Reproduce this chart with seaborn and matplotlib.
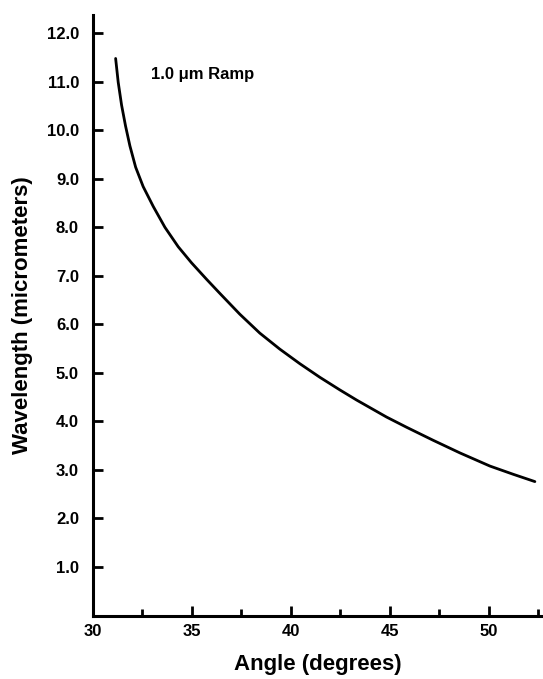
import matplotlib
matplotlib.use("Agg")
import matplotlib.pyplot as plt
import seaborn as sns
import pandas as pd
from matplotlib.ticker import MultipleLocator

# Diffraction angle vs. wavelength for the ramp grating
angle_deg = [31.15, 31.28, 31.45, 31.65, 31.87, 32.16, 32.54, 33.05, 33.64,
             34.31, 34.98, 35.74, 36.41, 37.42, 38.43, 39.44, 40.45, 41.46,
             42.47, 43.32, 44.83, 45.84, 47.19, 48.54, 50.05, 51.23, 52.32]
wavelength_um = [11.48, 10.99, 10.52, 10.09, 9.68, 9.24, 8.84, 8.43, 8.00,
                 7.60, 7.27, 6.93, 6.64, 6.21, 5.82, 5.49, 5.19, 4.91,
                 4.65, 4.44, 4.09, 3.88, 3.61, 3.35, 3.08, 2.91, 2.76]

x_ticks = [30, 35, 40, 45, 50]
x_tick_labels = ["30", "35", "40", "45", "50"]
y_ticks = [1.0, 2.0, 3.0, 4.0, 5.0, 6.0, 7.0, 8.0, 9.0, 10.0, 11.0, 12.0]
y_tick_labels = [f"{v:.1f}" for v in y_ticks]

curve_label = "1.0 μm Ramp"
x_label = "Angle (degrees)"
y_label = "Wavelength (micrometers)"

sns.set_style("ticks")
plt.rcParams["font.family"] = ["Liberation Sans", "DejaVu Sans"]
plt.rcParams["font.weight"] = "bold"
plt.rcParams["text.color"] = "black"
plt.rcParams["axes.labelcolor"] = "black"

df = pd.DataFrame({"angle": angle_deg, "wavelength": wavelength_um})

fig = plt.figure(figsize=(5.43, 6.79), dpi=100)
ax = fig.add_axes([0.171, 0.0935, 0.829, 0.884])

sns.lineplot(data=df, x="angle", y="wavelength", ax=ax, color="black",
             linewidth=2.0, sort=True)

ax.set_xlim(30, 52.73)
ax.set_ylim(0, 12.37)

ax.set_xticks(x_ticks)
ax.set_xticklabels(x_tick_labels, fontsize=12, fontweight="bold")
ax.xaxis.set_minor_locator(MultipleLocator(2.5))
ax.set_yticks(y_ticks)
ax.set_yticklabels(y_tick_labels, fontsize=12, fontweight="bold")

ax.tick_params(axis="both", which="major", direction="in", length=7,
               width=2, color="black", labelcolor="black")
ax.tick_params(axis="x", which="minor", direction="in", length=5,
               width=2, color="black")
ax.tick_params(axis="y", which="major", pad=10)
ax.tick_params(axis="x", which="major", pad=6)

for side in ("top", "right"):
    ax.spines[side].set_visible(False)
for side in ("left", "bottom"):
    ax.spines[side].set_linewidth(2.2)
    ax.spines[side].set_color("black")

ax.set_xlabel(x_label, fontsize=16, fontweight="bold", labelpad=11,
              color="black")
ax.set_ylabel(y_label, fontsize=16, fontweight="bold", labelpad=10,
              color="black")

ax.text(32.95, 11.15, curve_label, fontsize=12, fontweight="bold",
        ha="left", va="center", color="black")

fig.savefig("out.png", dpi=100, facecolor="white")
